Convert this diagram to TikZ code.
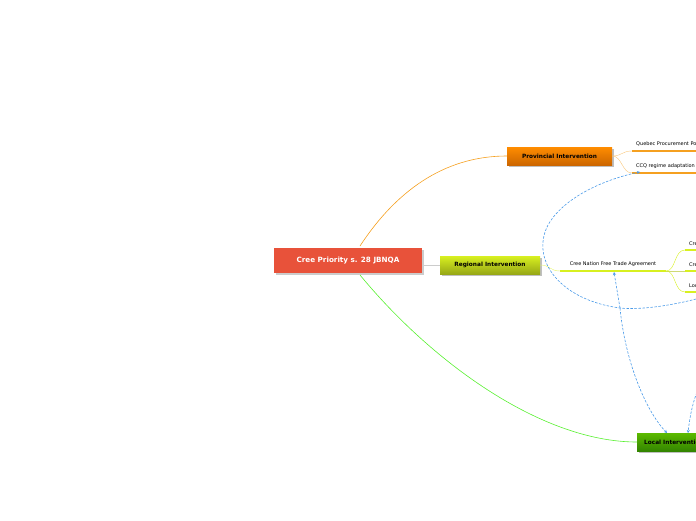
\documentclass[tikz,border=0pt]{standalone}
\usepackage{fontspec}
\setmainfont{DejaVu Sans}
\usetikzlibrary{arrows.meta}
\definecolor{cred}{HTML}{E8523A}
\definecolor{corange}{HTML}{F5A020}
\definecolor{cyg}{HTML}{D8F020}
\definecolor{cgreen}{HTML}{58F030}
\definecolor{cblue}{HTML}{4A9AE8}
\tikzset{
  sub/.style={font=\fontsize{5}{6}\selectfont,anchor=south west,inner sep=1pt},
  dlink/.style={cblue,dashed,semithick,dash pattern=on 2.5pt off 1.5pt},
  arr/.style={-{Stealth[length=3pt,width=3pt]}}
}
\begin{document}
\begin{tikzpicture}[x=1pt,y=-1pt]
\useasboundingbox (0,0) rectangle (696,520);
\clip (0,0) rectangle (696,520);
\fill[gray!40] (276,250) rectangle (424,275);
\node[fill=cred,minimum width=148pt,minimum height=25pt,inner sep=0pt,text=white,font=\bfseries\fontsize{7.2}{8}\selectfont] (c) at (348,260.5) {Cree Priority s. 28 JBNQA};
\fill[gray!50] (509,149) rectangle (614,167);
\node[top color=orange!90!yellow,bottom color=orange!80!black,minimum width=105pt,minimum height=18pt,inner sep=0pt,font=\bfseries\fontsize{5.8}{6}\selectfont] (p) at (559.5,156) {Provincial Intervention};
\fill[gray!50] (442,258) rectangle (542,276);
\node[top color=cyg,bottom color=cyg!70!black,minimum width=100pt,minimum height=18pt,inner sep=0pt,font=\bfseries\fontsize{5.8}{6}\selectfont] (r) at (490,265) {Regional Intervention};
\fill[gray!50] (639,435) rectangle (700,453);
\node[top color=green!50!black!60!yellow!90!green,bottom color=green!40!black!80!yellow,minimum height=18pt,inner sep=0pt,anchor=west,font=\bfseries\fontsize{5.8}{6}\selectfont] (l) at (637,442) {\hspace{7pt}Local Intervention\hspace{7pt}};
% main links
\draw[corange,semithick] (360,246) .. controls (400,185) and (450,156) .. (p.west);
\draw[cgreen,semithick] (360,275) .. controls (430,360) and (540,442) .. (l.west);
\draw[gray!40,thin] (c.east|-r.west) -- (r.west);
% provincial subtopics
\node[sub] (q1) at (635,148) {Quebec Procurement Policy};
\node[sub] (q2) at (635,170) {CCQ regime adaptation};
\draw[corange,line width=1.8pt] (632,151) -- (700,151);
\draw[corange,line width=1.8pt] (632,173) -- (700,173);
\draw[corange!60,thin] (p.east) .. controls (622,156) and (622,151) .. (632,151);
\draw[corange!60,thin] (p.east) .. controls (622,156) and (622,173) .. (632,173);
% regional subtopic
\node[font=\fontsize{5}{6}\selectfont,inner sep=1pt] (ft) at (613,264) {Cree Nation Free Trade Agreement};
\draw[cyg,line width=1.8pt] (560,271) -- (666,271);
\draw[cyg!70,thin] (r.east) .. controls (550,265) and (550,271) .. (560,271);
\draw[cyg!80!black!60,thin] (666,271) -- (685,271);
\draw[cyg,thin] (666,271) .. controls (676,271) and (674,250) .. (685,250);
\draw[cyg,thin] (666,271) .. controls (676,271) and (674,292) .. (685,292);
\foreach \y/\t in {250/Cree,271/Cree,292/Local}{
  \draw[cyg,line width=1.8pt] (685,\y) -- (700,\y);
  \node[sub] at (688,\y-3) {\t};
}
% dashed relationships
\coordinate (j) at (620,308);
\draw[dlink,arr] (700,298) .. controls (670,306) and (640,310) .. (j) .. controls (560,300) and (530,260) .. (548,225) .. controls (565,195) and (610,178) .. (640,172);
\draw[dlink,arr] (j) -- (614,272);
\draw[dlink,arr] (j) .. controls (625,360) and (645,410) .. (667,433);
\draw[dlink,arr] (700,385) .. controls (693,400) and (690,415) .. (688,433);
\end{tikzpicture}
\end{document}
